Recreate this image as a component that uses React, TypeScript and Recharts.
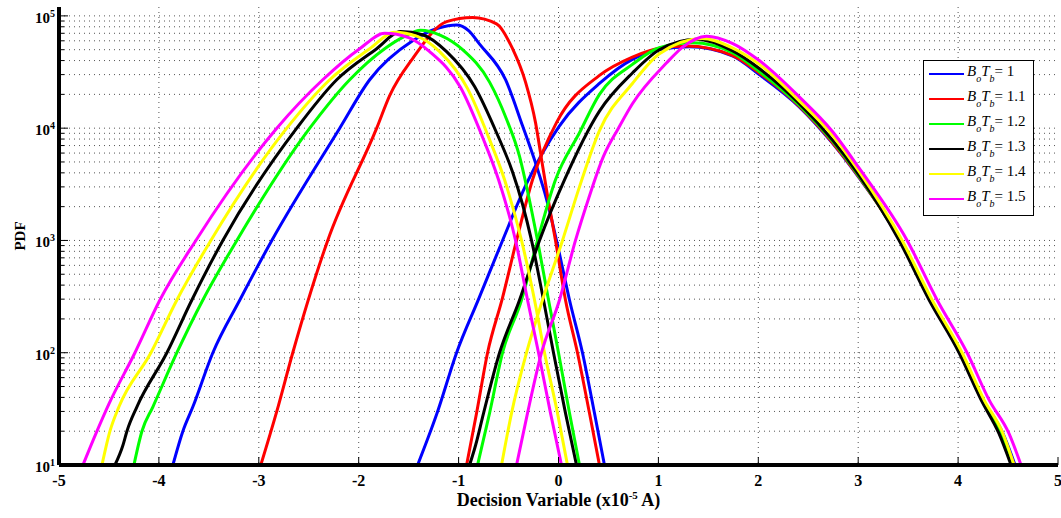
import { LineChart, Line, XAxis, YAxis, CartesianGrid, Legend } from 'recharts'

type Pt = [number, number]

// B_o*T_b products, one colour per product
const botbValues = ['1', '1.1', '1.2', '1.3', '1.4', '1.5']
const lineColors = ['#0000ff', '#ff0000', '#00ff00', '#000000', '#ffff00', '#ff00ff']

const xTicks = [-5, -4, -3, -2, -1, 0, 1, 2, 3, 4, 5]
const xGrid = [-4, -3, -2, -1, 0, 1, 2, 3, 4]
const yDecades = [10, 100, 1000, 10000, 100000]
const yMultipliers = [1, 2, 3, 4, 5, 6, 7, 8, 9]

// PDF samples [decision variable (x1e-5 A), pdf] for the "0" lobe (left) and "1" lobe (right)
const left10: Pt[] = [
  [-3.86, 10], [-3.76, 20], [-3.66, 33], [-3.46, 100], [-3.19, 295], [-2.87, 1000],
  [-2.19, 10000], [-1.89, 27000], [-1.46, 60000], [-1.2, 78000], [-1.02, 83000],
  [-0.9, 74000], [-0.79, 56000], [-0.53, 27000], [-0.36, 10500], [-0.22, 4600],
  [-0.12, 2340], [-0.02, 1000], [0.11, 295], [0.24, 100], [0.36, 29], [0.46, 10],
]
const right10: Pt[] = [
  [-1.41, 10], [-1.3, 18], [-1.21, 30], [-1.02, 100], [-0.8, 300], [-0.56, 1000],
  [-0.32, 3200], [0.01, 10500], [0.41, 25000], [0.74, 41000], [1.01, 50000], [1.31, 53000],
  [1.74, 44000], [2.01, 30000], [2.41, 15500], [2.74, 7400], [3.01, 3600],
  [3.43, 1000], [3.73, 295], [4.03, 100], [4.25, 38], [4.45, 19], [4.57, 10],
]

const left11: Pt[] = [
  [-2.98, 10], [-2.82, 30], [-2.66, 100], [-2.31, 1000], [-1.82, 10000], [-1.69, 19500],
  [-1.46, 41700], [-1.12, 89000], [-0.86, 97000], [-0.62, 85000], [-0.46, 51000],
  [-0.33, 25700], [-0.23, 11200], [-0.17, 5300], [-0.11, 2500], [-0.03, 1000],
  [0.07, 295], [0.19, 100], [0.31, 29], [0.41, 10],
]
const right11: Pt[] = [
  [-0.92, 10], [-0.82, 29], [-0.71, 100], [-0.56, 310], [-0.42, 1000], [-0.26, 3470],
  [-0.02, 11200], [0.41, 29500], [0.74, 43000], [1.01, 51500], [1.28, 54000],
  [1.74, 44500], [2.01, 31000], [2.41, 15700], [2.74, 7500], [3.01, 3650],
  [3.42, 1000], [3.72, 295], [4.02, 100], [4.24, 38], [4.44, 19], [4.56, 10],
]

const left12: Pt[] = [
  [-4.25, 10], [-4.17, 20], [-4.06, 33], [-3.82, 100], [-3.56, 295], [-3.22, 1000],
  [-2.49, 10000], [-2.09, 27000], [-1.74, 51000], [-1.55, 65000], [-1.38, 74500],
  [-1.18, 67000], [-0.96, 50000], [-0.69, 25700], [-0.52, 12000], [-0.39, 5600],
  [-0.3, 2500], [-0.21, 1000], [-0.1, 295], [0.0, 100], [0.11, 29], [0.21, 10],
]
const right12: Pt[] = [
  [-0.81, 10], [-0.69, 29], [-0.56, 100], [-0.37, 295], [-0.21, 1000], [-0.03, 3470],
  [0.21, 9100], [0.41, 20000], [0.74, 37000], [1.01, 52000], [1.34, 57500],
  [1.74, 47000], [2.01, 32000], [2.41, 16000], [2.74, 7700], [3.01, 3700],
  [3.42, 1000], [3.72, 295], [4.02, 100], [4.24, 38], [4.43, 19], [4.54, 10],
]

const left13: Pt[] = [
  [-4.44, 10], [-4.36, 15], [-4.32, 20], [-4.22, 33], [-3.92, 100], [-3.67, 295],
  [-3.36, 1000], [-2.62, 10000], [-2.22, 27000], [-1.82, 51000], [-1.58, 72500],
  [-1.36, 68000], [-1.12, 48000], [-0.84, 23500], [-0.62, 9100], [-0.46, 4070],
  [-0.36, 2100], [-0.27, 1000], [-0.15, 295], [-0.05, 100], [0.07, 29], [0.18, 10],
]
const right13: Pt[] = [
  [-0.89, 10], [-0.83, 15], [-0.75, 29], [-0.59, 100], [-0.39, 295], [-0.19, 1000],
  [0.06, 3470], [0.41, 14200], [0.74, 31000], [1.01, 50000], [1.38, 62000],
  [1.74, 49000], [2.01, 34000], [2.41, 16600], [2.74, 7900], [3.01, 3800],
  [3.41, 1000], [3.71, 295], [4.01, 100], [4.23, 38], [4.41, 19], [4.53, 10],
]

const left14: Pt[] = [
  [-4.57, 10], [-4.49, 20], [-4.4, 33], [-4.08, 100], [-3.82, 295], [-3.48, 1000],
  [-2.72, 10000], [-2.29, 27000], [-1.89, 51000], [-1.64, 71500], [-1.42, 66000],
  [-1.19, 48000], [-0.91, 22500], [-0.69, 7900], [-0.54, 3470], [-0.37, 1000],
  [-0.24, 295], [-0.14, 100], [-0.01, 29], [0.09, 10],
]
const right14: Pt[] = [
  [-0.57, 10], [-0.47, 29], [-0.32, 100], [-0.16, 295], [0.04, 1000], [0.21, 3000],
  [0.41, 9500], [0.74, 25000], [1.01, 46000], [1.44, 63000], [1.74, 52000],
  [2.01, 37000], [2.41, 17500], [2.74, 8700], [3.01, 4100], [3.44, 1000],
  [3.74, 295], [4.04, 100], [4.26, 38], [4.45, 19], [4.56, 10],
]

const left15: Pt[] = [
  [-4.76, 10], [-4.62, 20], [-4.5, 35], [-4.24, 100], [-3.99, 295], [-3.63, 1000],
  [-2.82, 10000], [-2.36, 27000], [-1.99, 51000], [-1.74, 70000], [-1.5, 64000],
  [-1.29, 48000], [-0.98, 23000], [-0.76, 8300], [-0.6, 3470], [-0.43, 1000],
  [-0.31, 295], [-0.2, 100], [-0.08, 29], [0.03, 10],
]
const right15: Pt[] = [
  [-0.42, 10], [-0.31, 29], [-0.17, 100], [0.01, 295], [0.17, 1000], [0.3, 2340],
  [0.45, 5600], [0.6, 10000], [0.74, 16500], [1.08, 38000], [1.24, 52500], [1.48, 66000],
  [1.74, 57000], [2.01, 40000], [2.41, 19000], [2.74, 9400], [3.01, 4400],
  [3.49, 1000], [3.79, 295], [4.09, 100], [4.31, 38], [4.51, 19], [4.63, 10],
]

const leftLobes = [left10, left11, left12, left13, left14, left15]
const rightLobes = [right10, right11, right12, right13, right14, right15]

const yTicks = yDecades.flatMap((d, i) =>
  i < yDecades.length - 1 ? yMultipliers.map((k) => k * d) : [d],
)

const toPoints = (pts: Pt[]) => pts.map(([x, y]) => ({ x, y }))

const series = botbValues.map((value, i) => ({
  value,
  color: lineColors[i],
  left: toPoints(leftLobes[i]),
  right: toPoints(rightLobes[i]),
}))

const serif = '"Liberation Serif", "Times New Roman", serif'

function isDecade(v: number) {
  const e = Math.log10(v)
  return Math.abs(e - Math.round(e)) < 1e-6
}

function BottomTick({ x, y, payload }: any) {
  return (
    <g>
      <line x1={x} x2={x} y1={y} y2={y - 8} stroke="#000" />
      <text x={x} y={y + 21} textAnchor="middle" fontFamily={serif} fontWeight="bold" fontSize={16} fill="#000">
        {payload.value}
      </text>
    </g>
  )
}

function TopTick({ x, y }: any) {
  return <line x1={x} x2={x} y1={y} y2={y + 8} stroke="#000" />
}

function LeftTick({ x, y, payload }: any) {
  const major = isDecade(payload.value)
  return (
    <g>
      <line x1={x} x2={x + (major ? 9 : 5)} y1={y} y2={y} stroke="#000" />
      {major && (
        <text x={x - 4} y={y + 7} textAnchor="end" fontFamily={serif} fontWeight="bold" fontSize={15} fill="#000">
          10
          <tspan dy={-6} fontSize={10}>
            {Math.round(Math.log10(payload.value))}
          </tspan>
        </text>
      )}
    </g>
  )
}

function RightTick({ x, y, payload }: any) {
  const major = isDecade(payload.value)
  return <line x1={x} x2={x - (major ? 9 : 5)} y1={y} y2={y} stroke="#000" />
}

function XTitle({ viewBox }: any) {
  const { x, y, width } = viewBox
  return (
    <text x={x + width / 2} y={y + 41} textAnchor="middle" fontFamily={serif} fontWeight="bold" fontSize={18} fill="#000">
      Decision Variable (x10
      <tspan dy={-7} fontSize={11}>
        -5
      </tspan>
      <tspan dy={7}> A)</tspan>
    </text>
  )
}

function YTitle({ viewBox }: any) {
  const { y, height } = viewBox
  const cx = 25
  const cy = y + height / 2
  return (
    <text x={cx} y={cy} transform={`rotate(-90 ${cx} ${cy})`} textAnchor="middle" fontFamily={serif} fontWeight="bold" fontSize={15} fill="#000">
      PDF
    </text>
  )
}

function LegendBox() {
  return (
    <div
      style={{
        boxSizing: 'border-box',
        width: 111,
        height: 156,
        border: '1.5px solid #000',
        background: '#fff',
        paddingLeft: 5,
        fontFamily: serif,
        fontSize: 15,
        color: '#000',
      }}
    >
      {series.map((s) => (
        <div key={s.value} style={{ display: 'flex', alignItems: 'center', height: 25, whiteSpace: 'nowrap' }}>
          <span style={{ display: 'inline-block', width: 35, height: 2, background: s.color, marginRight: 3 }} />
          <span style={{ position: 'relative', top: -2 }}>
            <i>B</i>
            <i style={{ position: 'relative', top: 6, fontSize: 10 }}>o</i>
            <i>T</i>
            <i style={{ position: 'relative', top: 6, fontSize: 10 }}>b</i>= {s.value}
          </span>
        </div>
      ))}
    </div>
  )
}

export default function App() {
  return (
    <div style={{ position: 'absolute', left: 0, top: 0, width: 1061, height: 518, background: '#fff' }}>
      <LineChart width={1061} height={518} margin={{ top: 7, right: 3, bottom: 0, left: 0 }}>
        <CartesianGrid
          horizontalValues={yTicks}
          verticalValues={xGrid}
          stroke="#555"
          strokeDasharray="1 4"
        />
        <XAxis
          type="number"
          dataKey="x"
          domain={[-5, 5]}
          ticks={xTicks}
          interval={0}
          allowDataOverflow
          height={53}
          tickSize={0}
          tickMargin={0}
          tickLine={false}
          axisLine={{ stroke: '#000', strokeWidth: 4 }}
          tick={BottomTick}
          label={{ content: XTitle }}
        />
        <XAxis
          xAxisId="top"
          orientation="top"
          type="number"
          domain={[-5, 5]}
          ticks={xTicks}
          interval={0}
          allowDataOverflow
          height={0}
          tickSize={0}
          tickMargin={0}
          tickLine={false}
          axisLine={{ stroke: '#000', strokeWidth: 3.5 }}
          tick={TopTick}
        />
        <YAxis
          type="number"
          scale="log"
          domain={[10, 120000]}
          ticks={yTicks}
          interval={0}
          allowDataOverflow
          width={59}
          tickSize={0}
          tickMargin={0}
          tickLine={false}
          axisLine={{ stroke: '#000', strokeWidth: 4 }}
          tick={LeftTick}
          label={{ content: YTitle }}
        />
        <YAxis
          yAxisId="right"
          orientation="right"
          type="number"
          scale="log"
          domain={[10, 120000]}
          ticks={yTicks}
          interval={0}
          allowDataOverflow
          width={0}
          tickSize={0}
          tickMargin={0}
          tickLine={false}
          axisLine={{ stroke: '#000', strokeWidth: 3.5 }}
          tick={RightTick}
        />
        {series.flatMap((s) => [
          <Line
            key={`${s.value}-left`}
            data={s.left}
            dataKey="y"
            name={s.value}
            type="monotone"
            stroke={s.color}
            strokeWidth={3}
            dot={false}
            activeDot={false}
            isAnimationActive={false}
          />,
          <Line
            key={`${s.value}-right`}
            data={s.right}
            dataKey="y"
            name={s.value}
            legendType="none"
            type="monotone"
            stroke={s.color}
            strokeWidth={3}
            dot={false}
            activeDot={false}
            isAnimationActive={false}
          />,
        ])}
        <Legend
          content={LegendBox}
          layout="vertical"
          align="center"
          verticalAlign="middle"
          wrapperStyle={{ left: 923, top: 60, width: 111, height: 156 }}
        />
      </LineChart>
    </div>
  )
}
